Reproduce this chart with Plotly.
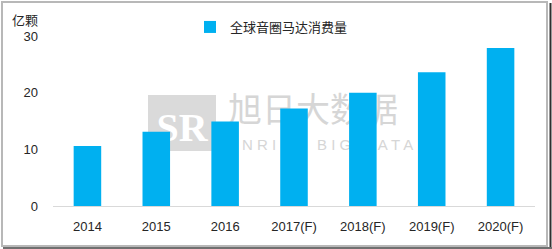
import plotly.graph_objects as go

categories = ["2014", "2015", "2016", "2017(F)", "2018(F)", "2019(F)", "2020(F)"]
values = [10.6, 13.1, 14.9, 17.2, 20.0, 23.6, 27.9]
series_name = "全球音圈马达消费量"
y_ticks = [0, 10, 20, 30]
y_unit = "亿颗"

L, R, T, B = 53, 17, 36, 43
W, H = 552, 249
pw, ph = W - L - R, H - T - B

def xp(px):
    return (px - L) / pw

def yp(py):
    return (H - B - py) / ph

font_family = "Liberation Sans, Arial, Noto Sans CJK SC, sans-serif"

fig = go.Figure()
fig.add_trace(go.Bar(x=categories, y=values, name=series_name,
                     marker=dict(color="#00B0F0", line=dict(width=0)),
                     showlegend=True))

shapes = [
    # outer frame
    dict(type="rect", xref="paper", yref="paper", x0=xp(2), x1=xp(547), y0=yp(246), y1=yp(2),
         line=dict(color="#b8b8b8", width=2), fillcolor="rgba(0,0,0,0)", layer="above"),
    dict(type="line", xref="paper", yref="paper", x0=xp(550.5), x1=xp(550.5), y0=yp(249), y1=yp(3),
         line=dict(color="#303030", width=2), layer="above"),
    dict(type="line", xref="paper", yref="paper", x0=xp(3), x1=xp(552), y0=yp(248), y1=yp(248),
         line=dict(color="#707070", width=2), layer="above"),
    # watermark logo
    dict(type="rect", xref="paper", yref="paper", x0=xp(148), x1=xp(216), y0=yp(151), y1=yp(95),
         line=dict(width=0), fillcolor="#dadada", layer="below",
         label=dict(text="<b>SR</b>", font=dict(size=40, color="white", family="Liberation Serif, serif"),
                    textposition="middle center")),
    dict(type="rect", xref="paper", yref="paper", x0=xp(226), x1=xp(400), y0=yp(130), y1=yp(94),
         line=dict(width=0), fillcolor="rgba(0,0,0,0)", layer="below",
         label=dict(text="旭日大数据", font=dict(size=34, color="#d6d6d6", family="Noto Sans CJK SC"),
                    textposition="middle center")),
    dict(type="rect", xref="paper", yref="paper", x0=xp(222), x1=xp(404), y0=yp(152), y1=yp(134),
         line=dict(width=0), fillcolor="rgba(0,0,0,0)", layer="below",
         label=dict(text="S U N R I S E   B I G   D A T A", font=dict(size=15, color="#d6d6d6", family="Liberation Sans"),
                    textposition="middle center")),
]

fig.update_layout(
    width=W, height=H,
    margin=dict(l=L, r=R, t=T, b=B, pad=0),
    paper_bgcolor="white", plot_bgcolor="white",
    font=dict(family=font_family, size=13, color="#262626"),
    bargap=0.6,
    shapes=shapes,
    legend=dict(orientation="h", x=xp(190), y=yp(12), xanchor="left", yanchor="top",
                font=dict(size=13, color="#262626", family="Noto Sans CJK SC"),
                bgcolor="rgba(0,0,0,0)", itemwidth=30),
    annotations=[dict(text=y_unit, xref="paper", yref="paper", x=xp(25), y=yp(20),
                      showarrow=False, xanchor="center", yanchor="middle",
                      font=dict(size=13, color="#262626", family="Noto Sans CJK SC"))],
    xaxis=dict(showline=True, linecolor="#d9d9d9", linewidth=1, showgrid=False, ticks="",
               ticklabelstandoff=8, zeroline=False),
    yaxis=dict(range=[0, 30], tickvals=y_ticks, showgrid=False, zeroline=False, showline=False,
               ticks="", ticklabelstandoff=14),
)

fig.write_html("out.html")
